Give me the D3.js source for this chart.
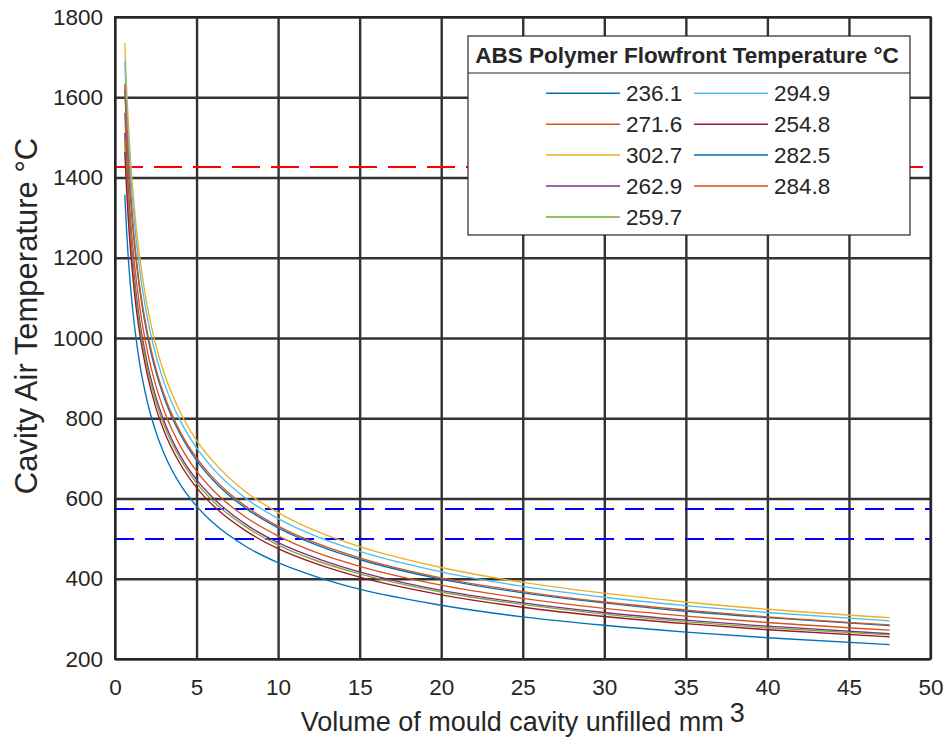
<!DOCTYPE html>
<html>
<head>
<meta charset="utf-8">
<script src="https://cdn.jsdelivr.net/npm/d3@7"></script>
<style>
  body { margin: 0; background: #fff; }
  text { font-family: "Liberation Sans", Arial, sans-serif; fill: #262626; }
</style>
</head>
<body>
<script>
let width = 945, height = 748;

// unfilled volume (mm^3) at which the curves were read
let volumes = [0.6, 0.7, 0.8, 1, 1.25, 1.5, 2, 2.5, 3, 4, 5, 6, 8, 10, 12.5, 15, 20, 25, 30, 35, 40, 47.5];

// cavity air temperature, one array per flowfront temperature
let t236_1 = [1357, 1276, 1209, 1106, 1012, 940, 838, 767, 713, 635, 581, 540, 481, 440, 403, 374, 334, 305, 284, 267, 253, 236];
let t271_6 = [1561, 1467, 1391, 1272, 1164, 1082, 964, 882, 820, 731, 668, 621, 554, 507, 463, 431, 384, 351, 326, 307, 291, 272];
let t302_7 = [1735, 1635, 1550, 1418, 1297, 1206, 1075, 983, 914, 815, 745, 693, 617, 565, 516, 480, 428, 391, 364, 342, 324, 303];
let t262_9 = [1511, 1420, 1347, 1232, 1127, 1047, 933, 854, 794, 707, 647, 602, 536, 490, 449, 417, 371, 340, 316, 297, 282, 263];
let t259_7 = [1492, 1403, 1330, 1217, 1113, 1034, 922, 843, 784, 699, 639, 594, 530, 484, 443, 412, 367, 336, 312, 293, 278, 260];
let t294_9 = [1690, 1593, 1510, 1382, 1264, 1175, 1047, 958, 890, 794, 726, 675, 601, 550, 503, 468, 417, 381, 354, 333, 316, 295];
let t254_8 = [1464, 1377, 1305, 1194, 1092, 1015, 905, 827, 769, 686, 627, 583, 520, 475, 435, 404, 360, 329, 306, 288, 273, 255];
let t282_5 = [1620, 1526, 1447, 1324, 1211, 1125, 1003, 917, 853, 760, 695, 646, 576, 527, 482, 448, 399, 365, 340, 319, 303, 283];
let t284_8 = [1634, 1539, 1459, 1334, 1220, 1134, 1011, 925, 860, 766, 701, 652, 581, 531, 486, 452, 402, 368, 342, 322, 305, 285];

let labels = ["236.1", "271.6", "302.7", "262.9", "259.7", "294.9", "254.8", "282.5", "284.8"];
let curves = [t236_1, t271_6, t302_7, t262_9, t259_7, t294_9, t254_8, t282_5, t284_8];
let colors = ["#0072BD", "#D95319", "#EDB120", "#7E2F8E", "#77AC30", "#4DBEEE", "#A2142F", "#0072BD", "#D95319"];

// reference limits
let redLimit = 1425;
let blueLimits = [575, 500];

let xTicks = [0, 5, 10, 15, 20, 25, 30, 35, 40, 45, 50];
let yTicks = [200, 400, 600, 800, 1000, 1200, 1400, 1600, 1800];

let pLeft = 115, pRight = 930.5, pTop = 17, pBottom = 659;

let svg = d3.select("body").append("svg")
    .attr("width", width)
    .attr("height", height);

let x = d3.scaleLinear().domain([0, 50]).range([pLeft, pRight]);
let y = d3.scaleLinear().domain([200, 1800]).range([pBottom, pTop]);

// grid
svg.append("g")
    .attr("transform", `translate(0,${pBottom})`)
    .call(d3.axisBottom(x).tickValues(xTicks).tickSize(-(pBottom - pTop)).tickFormat(""))
    .call(g => g.select(".domain").remove())
    .selectAll("line").attr("stroke", "#333").attr("stroke-width", 2.4);

svg.append("g")
    .attr("transform", `translate(${pLeft},0)`)
    .call(d3.axisLeft(y).tickValues(yTicks).tickSize(-(pRight - pLeft)).tickFormat(""))
    .call(g => g.select(".domain").remove())
    .selectAll("line").attr("stroke", "#333").attr("stroke-width", 2.4);

// tick labels
svg.append("g")
    .attr("transform", `translate(0,${pBottom})`)
    .call(d3.axisBottom(x).tickValues(xTicks).tickSize(0).tickPadding(20).tickFormat(d3.format("d")))
    .call(g => g.select(".domain").remove())
    .selectAll("text")
    .attr("font-size", 22.5).attr("font-family", "Liberation Sans, Arial, sans-serif").attr("fill", "#262626");

svg.append("g")
    .attr("transform", `translate(${pLeft},0)`)
    .call(d3.axisLeft(y).tickValues(yTicks).tickSize(0).tickPadding(12).tickFormat(d3.format("d")))
    .call(g => g.select(".domain").remove())
    .selectAll("text")
    .attr("font-size", 22.5).attr("font-family", "Liberation Sans, Arial, sans-serif").attr("fill", "#262626");

// dashed limits
svg.append("line")
    .attr("x1", pLeft).attr("x2", pRight)
    .attr("y1", Math.round(y(redLimit))).attr("y2", Math.round(y(redLimit)))
    .attr("stroke", "#ff0000").attr("stroke-width", 1.6)
    .attr("shape-rendering", "crispEdges")
    .attr("stroke-dasharray", "28,11");

svg.selectAll(".blue-limit")
    .data(blueLimits)
  .enter().append("line")
    .attr("class", "blue-limit")
    .attr("x1", pLeft).attr("x2", pRight)
    .attr("y1", d => Math.round(y(d))).attr("y2", d => Math.round(y(d)))
    .attr("stroke", "#0000ff").attr("stroke-width", 1.6)
    .attr("shape-rendering", "crispEdges")
    .attr("stroke-dasharray", "19,11");

// curves
let line = d3.line()
    .x((d, i) => x(volumes[i]))
    .y(d => y(d))
    .curve(d3.curveMonotoneX);

svg.append("g")
  .selectAll("path")
    .data(curves)
  .enter().append("path")
    .attr("fill", "none")
    .attr("stroke", (d, i) => colors[i])
    .attr("stroke-width", 1.35)
    .attr("d", line);

// box
svg.append("rect")
    .attr("x", pLeft).attr("y", pTop)
    .attr("width", pRight - pLeft).attr("height", pBottom - pTop)
    .attr("fill", "none").attr("stroke", "#262626").attr("stroke-width", 2);

// axis labels
let xl = svg.append("text")
    .attr("x", (pLeft + pRight) / 2)
    .attr("y", 731)
    .attr("text-anchor", "middle")
    .attr("font-size", 27);
xl.append("tspan").text("Volume of mould cavity unfilled mm");
xl.append("tspan").attr("dx", 6).attr("dy", -9).text("3");

svg.append("text")
    .attr("transform", `translate(37,316) rotate(-90)`)
    .attr("text-anchor", "middle")
    .attr("font-size", 31)
    .text("Cavity Air Temperature °C");

// legend
let legend = svg.append("g");
legend.append("rect")
    .attr("x", 468).attr("y", 36)
    .attr("width", 442).attr("height", 199)
    .attr("fill", "#fff").attr("stroke", "#262626").attr("stroke-width", 1.2);
legend.append("line")
    .attr("x1", 468).attr("x2", 910).attr("y1", 73).attr("y2", 73)
    .attr("stroke", "#262626").attr("stroke-width", 1.2);
legend.append("text")
    .attr("x", 687).attr("y", 63)
    .attr("text-anchor", "middle")
    .attr("font-size", 22.5).attr("font-weight", "bold")
    .attr("fill", "#000")
    .text("ABS Polymer Flowfront Temperature °C");

let entry = legend.selectAll(".entry")
    .data(labels)
  .enter().append("g")
    .attr("class", "entry")
    .attr("transform", (d, i) => `translate(${i < 5 ? 546 : 694},${93.3 + (i % 5) * 30.9})`);
entry.append("line")
    .attr("x1", 0).attr("x2", 74)
    .attr("stroke", (d, i) => colors[i]).attr("stroke-width", 1.5);
entry.append("text")
    .attr("x", 80).attr("dy", "0.36em")
    .attr("font-size", 22.5).attr("fill", "#000")
    .text(d => d);
</script>
</body>
</html>
